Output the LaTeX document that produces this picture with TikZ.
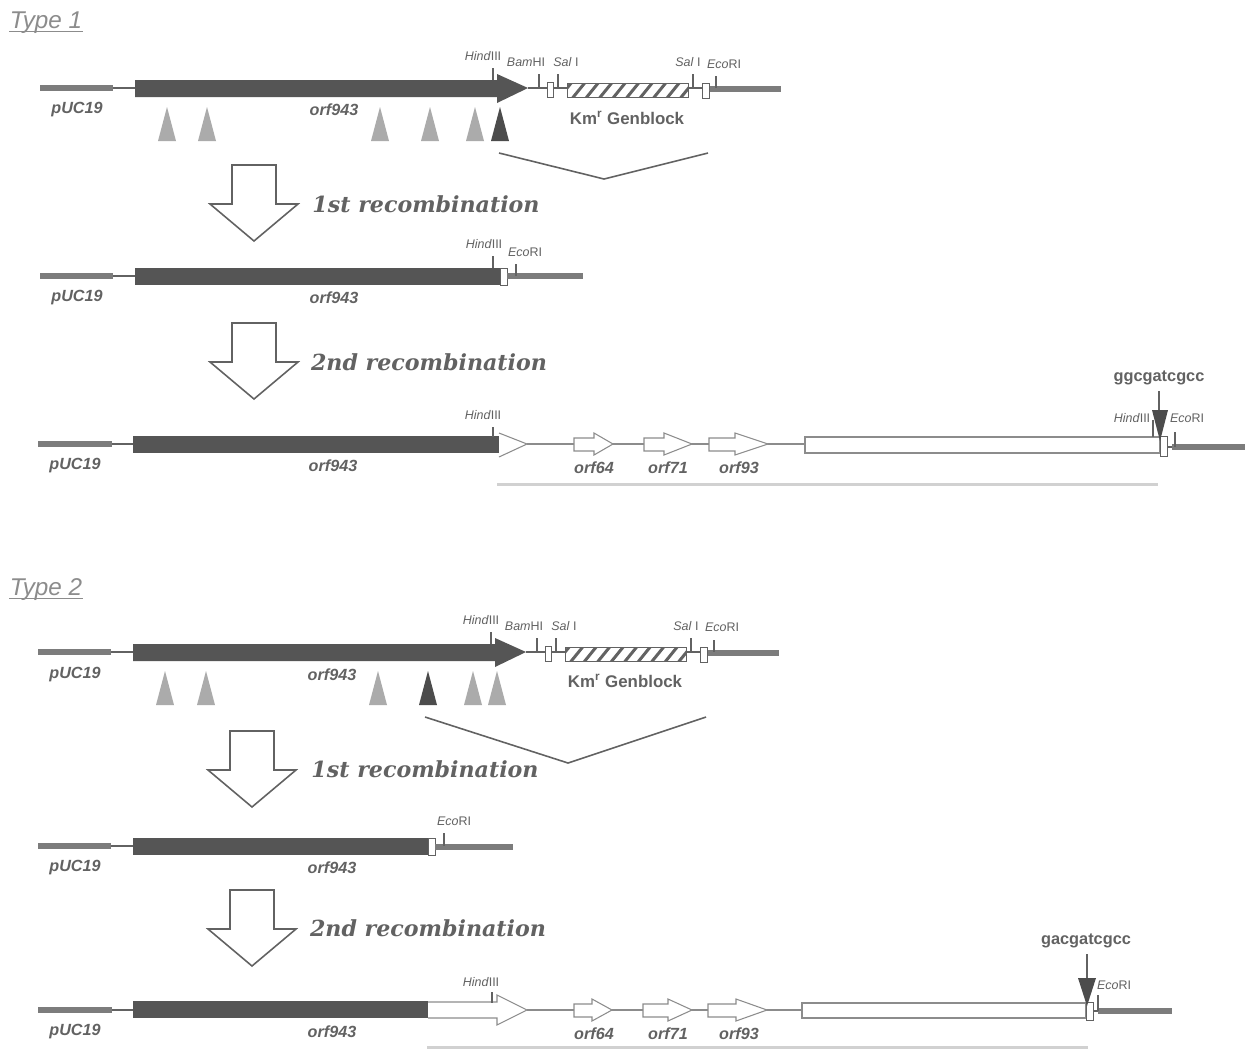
\documentclass[tikz,border=0pt]{standalone}
\usepackage{fontspec}
\setmainfont{Liberation Sans}
\newfontfamily\recfont{DejaVu Serif}
\usepackage{tikz}
\definecolor{inkgray}{HTML}{626262}
\definecolor{bargray}{HTML}{555555}
\definecolor{thickgray}{HTML}{7C7C7C}
\definecolor{palegray}{HTML}{ABABAB}
\tikzset{
  every picture/.style={line width=0.5pt},
  sTitle/.style={font=\fontsize{13.8}{14}\selectfont\itshape, text=black!45, inner sep=0pt},
  sName/.style={font=\fontsize{9.2}{9}\selectfont\bfseries\itshape, text=inkgray, inner sep=0pt},
  sKm/.style={font=\fontsize{9.6}{10}\selectfont\bfseries, text=inkgray, inner sep=0pt},
  sSite/.style={font=\fontsize{7.1}{7}\selectfont, text=inkgray, inner sep=0pt},
  sSeq/.style={font=\fontsize{9.3}{9}\selectfont\bfseries, text=inkgray, inner sep=0pt},
  sRec/.style={font=\fontsize{12.6}{13}\selectfont\recfont\bfseries\itshape, text=inkgray, inner sep=0pt},
  sThin/.style={draw=inkgray, line width=0.7pt},
  sVector/.style={draw=thickgray, line width=3.1pt},
  sTick/.style={draw=inkgray, line width=0.6pt},
  sBar/.style={fill=bargray, draw=none},
  sBox/.style={draw=inkgray, fill=white, line width=0.5pt},
  sOpen/.style={draw=black!45, fill=white, line width=0.6pt, line join=miter},
  sHollow/.style={draw=inkgray, fill=white, line width=0.9pt},
  sInsert/.style={fill=palegray, draw=none},
  sCut/.style={fill=black!70, draw=none},
  sKink/.style={draw=inkgray, line width=0.9pt},
  sFaint/.style={draw=black!18, line width=1.7pt},
  sStripe/.style={draw=inkgray, line width=1.7pt},
}
% down arrow: x of the middle, y of the top
\newcommand{\recarrow}[2]{%
  \draw[sHollow] (#1-22,#2) -- (#1+22,#2) -- (#1+22,#2+39) -- (#1+44,#2+39) -- (#1,#2+76)
    -- (#1-44,#2+39) -- (#1-22,#2+39) -- cycle;}
% small open gene arrow
\newcommand{\genearrow}[4]{%
  \draw[sOpen] (#1,#4-6) -- (#2,#4-6) -- (#2,#4-11) -- (#3,#4) -- (#2,#4+11) -- (#2,#4+7) -- (#1,#4+7) -- cycle;}
% striped block: left x, top y
\newcommand{\stripebar}[2]{%
  \begin{scope}
    \clip (#1,#2) rectangle (#1+121,#2+14);
    \foreach \s in {-8,5.5,...,125}
      \draw[sStripe] (#1+\s,#2+15) -- (#1+\s+13,#2-1);
  \end{scope}
  \draw[sBox, fill=none] (#1,#2) rectangle (#1+121,#2+14);}
\begin{document}
\begin{tikzpicture}[x=0.02cm,y=-0.02cm]
  \useasboundingbox (0,0) rectangle (1245,1049);
  \fill[white] (0,0) rectangle (1245,1049);

  % Type 1
  \node[sTitle] (titleA) at (46,23) {Type 1};
  \draw[black!45, line width=0.5pt] (9,31) -- (83,31);
  \draw[sVector] (40,88) -- (113,88);
  \draw[sThin] (113,88) -- (135,88);
  \fill[sBar] (135,80) -- (497,80) -- (497,74) -- (528,88) -- (497,103) -- (497,97) -- (135,97) -- cycle;
  \draw[sThin] (528,88) -- (702,88);
  \draw[sVector] (709,89) -- (781,89);
  \draw[sBox] (547,82) rectangle (553,97);
  \fill[white] (567,83) rectangle (688,97);
  \stripebar{567}{83}
  \draw[sBox] (702,83) rectangle (709,98);
  \draw[sTick] (493,68) -- (493,80) (539,74) -- (539,88) (558,74) -- (558,88) (693,74) -- (693,88) (716,76) -- (716,88);
  \node[sSite] (hindA) at (483,56) {\textit{Hind}III};
  \node[sSite] (bamA) at (526,62) {\textit{Bam}HI};
  \node[sSite] (salA) at (566,62) {\textit{Sal} I};
  \node[sSite] (salB) at (688,62) {\textit{Sal} I};
  \node[sSite] (ecoA) at (724,64) {\textit{Eco}RI};
  \node[sName] (pucA) at (77,110) {pUC19};
  \node[sName] (orfA) at (334,110) {orf943};
  \node[sKm] (kmA) at (627,118) {Km\textsuperscript{r} Genblock};
  \foreach \x in {167,207,380,430,475}
    \fill[sInsert] (\x-9,141) -- (\x,107) -- (\x+9,141) -- cycle;
  \fill[sCut] (491,141) -- (500,107) -- (509,141) -- cycle;
  \draw[sKink] (499,153) -- (604,179) -- (708,153);
  \recarrow{254}{165}
  \node[sRec] (recA) at (426,204) {1st recombination};

  \draw[sVector] (40,276) -- (113,276);
  \draw[sThin] (113,276) -- (135,276);
  \fill[sBar] (135,268) rectangle (500,285);
  \draw[sBox] (500,268) rectangle (507,285);
  \draw[sVector] (507,276) -- (583,276);
  \draw[sTick] (493,256) -- (493,268) (516,264) -- (516,276);
  \node[sSite] (hindB) at (484,244) {\textit{Hind}III};
  \node[sSite] (ecoB) at (525,252) {\textit{Eco}RI};
  \node[sName] (pucB) at (77,298) {pUC19};
  \node[sName] (orfB) at (334,298) {orf943};
  \recarrow{254}{323}
  \node[sRec] (recB) at (429,362) {2nd recombination};

  \draw[sVector] (38,444) -- (112,444);
  \draw[sThin] (112,444) -- (133,444);
  \fill[sBar] (133,436) rectangle (499,453);
  \draw[draw=black!45, line width=0.7pt] (527,444) -- (805,444);
  \draw[sOpen] (499,433) -- (527,444) -- (499,457);
  \genearrow{574}{594}{613}{444}
  \genearrow{644}{664}{692}{444}
  \genearrow{709}{735}{768}{444}
  \draw[sOpen] (805,437) rectangle (1160,453);
  \draw[sBox] (1160,436) rectangle (1167,456);
  \draw[sVector] (1172,447) -- (1245,447);
  \draw[sThin] (1167,447) -- (1172,447);
  \draw[sTick] (493,427) -- (493,437) (1175,432) -- (1175,447) (1153,420) -- (1153,437);
  \node[sSite] (hindC) at (483,415) {\textit{Hind}III};
  \node[sSite] (hindD) at (1132,418) {\textit{Hind}III};
  \node[sSite] (ecoC) at (1187,418) {\textit{Eco}RI};
  \node[sName] (pucC) at (75,466) {pUC19};
  \node[sName] (orfC) at (333,466) {orf943};
  \node[sName] (orfD) at (594,468) {orf64};
  \node[sName] (orfE) at (668,468) {orf71};
  \node[sName] (orfF) at (739,468) {orf93};
  \coordinate (tipA) at (1159,410);
  \fill[sCut] (1152,410) -- (1168,410) -- (1160,441) -- cycle;
  \node[sSeq] (seqA) at (1159,378) {ggcgatcgcc};
  \coordinate (topA) at (1159,391);
  \draw[sTick] (topA) -- (tipA);
  \draw[sFaint] (497,484) -- (1158,484);

  % Type 2
  \node[sTitle] (titleB) at (46,590) {Type 2};
  \draw[black!45, line width=0.5pt] (9,598) -- (83,598);
  \draw[sVector] (38,652) -- (111,652);
  \draw[sThin] (111,652) -- (133,652);
  \fill[sBar] (133,644) -- (495,644) -- (495,638) -- (526,652) -- (495,667) -- (495,661) -- (133,661) -- cycle;
  \draw[sThin] (526,652) -- (700,652);
  \draw[sVector] (707,653) -- (779,653);
  \draw[sBox] (545,646) rectangle (551,661);
  \fill[white] (565,647) rectangle (686,661);
  \stripebar{565}{647}
  \draw[sBox] (700,647) rectangle (707,662);
  \draw[sTick] (491,632) -- (491,644) (537,638) -- (537,652) (556,638) -- (556,652) (691,638) -- (691,652) (714,640) -- (714,652);
  \node[sSite] (hindE) at (481,620) {\textit{Hind}III};
  \node[sSite] (bamB) at (524,626) {\textit{Bam}HI};
  \node[sSite] (salC) at (564,626) {\textit{Sal} I};
  \node[sSite] (salD) at (686,626) {\textit{Sal} I};
  \node[sSite] (ecoD) at (722,627) {\textit{Eco}RI};
  \node[sName] (pucD) at (75,675) {pUC19};
  \node[sName] (orfG) at (332,675) {orf943};
  \node[sKm] (kmB) at (625,681) {Km\textsuperscript{r} Genblock};
  \foreach \x in {165,206,378,473,497}
    \fill[sInsert] (\x-9,705) -- (\x,671) -- (\x+9,705) -- cycle;
  \fill[sCut] (419,705) -- (428,671) -- (437,705) -- cycle;
  \draw[sKink] (425,717) -- (568,763) -- (706,717);
  \recarrow{252}{731}
  \node[sRec] (recC) at (425,769) {1st recombination};

  \draw[sVector] (38,846) -- (111,846);
  \draw[sThin] (111,846) -- (133,846);
  \fill[sBar] (133,838) rectangle (428,855);
  \draw[sBox] (428,838) rectangle (435,855);
  \draw[sVector] (435,847) -- (513,847);
  \draw[sTick] (444,833) -- (444,846);
  \node[sSite] (ecoE) at (454,821) {\textit{Eco}RI};
  \node[sName] (pucE) at (75,868) {pUC19};
  \node[sName] (orfH) at (332,868) {orf943};
  \recarrow{252}{890}
  \node[sRec] (recD) at (428,928) {2nd recombination};

  \draw[sVector] (38,1010) -- (112,1010);
  \draw[sThin] (112,1010) -- (133,1010);
  \fill[sBar] (133,1001) rectangle (428,1018);
  \draw[draw=black!45, line width=0.7pt] (527,1010) -- (802,1010);
  \draw[sOpen] (428,1002) -- (497,1002) -- (497,995) -- (527,1010) -- (497,1025) -- (497,1018) -- (428,1018);
  \genearrow{574}{592}{612}{1010}
  \genearrow{643}{668}{692}{1010}
  \genearrow{708}{736}{767}{1010}
  \draw[sOpen] (802,1003) rectangle (1086,1018);
  \draw[sBox] (1086,1002) rectangle (1093,1020);
  \draw[sVector] (1098,1011) -- (1172,1011);
  \draw[sThin] (1093,1011) -- (1098,1011);
  \draw[sTick] (492,992) -- (492,1003) (1098,995) -- (1098,1011);
  \node[sSite] (hindF) at (481,982) {\textit{Hind}III};
  \node[sSite] (ecoF) at (1114,985) {\textit{Eco}RI};
  \node[sName] (pucF) at (75,1032) {pUC19};
  \node[sName] (orfI) at (332,1032) {orf943};
  \node[sName] (orfJ) at (594,1034) {orf64};
  \node[sName] (orfK) at (668,1034) {orf71};
  \node[sName] (orfL) at (739,1034) {orf93};
  \coordinate (tipB) at (1087,978);
  \fill[sCut] (1078,978) -- (1096,978) -- (1087,1006) -- cycle;
  \node[sSeq] (seqB) at (1086,941) {gacgatcgcc};
  \coordinate (topB) at (1087,954);
  \draw[sTick] (topB) -- (tipB);
  \draw[sFaint] (427,1047) -- (1088,1047);
\end{tikzpicture}
\end{document}
